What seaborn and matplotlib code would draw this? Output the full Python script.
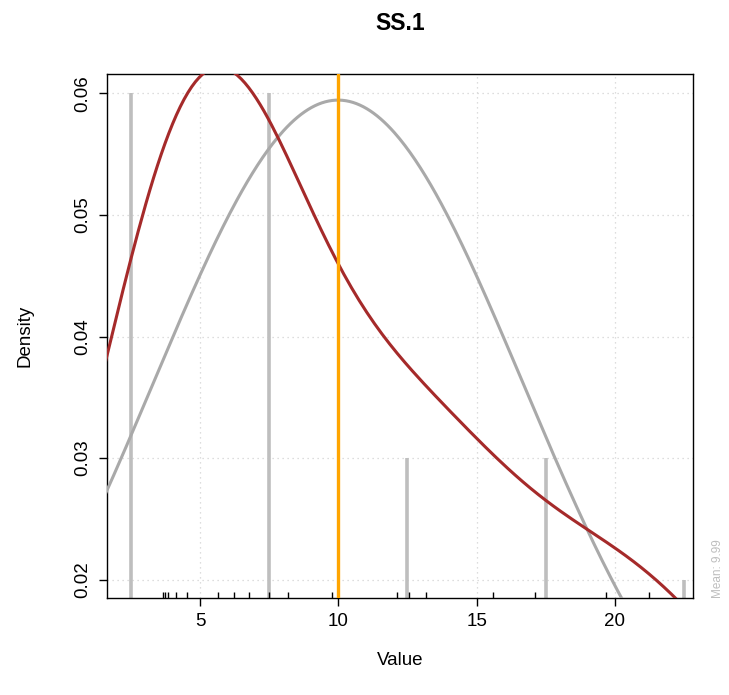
import matplotlib
matplotlib.use("Agg")
import matplotlib.pyplot as plt
import numpy as np
import pandas as pd
import seaborn as sns

values = [0.2, 3.64, 3.73, 3.83, 4.12, 4.54, 5.65, 6.22, 6.78, 7.5,
          8.19, 9.78, 12.12, 12.54, 13.18, 15.58, 17.10, 19.68, 21.23, 24.2]
bin_edges = [0, 5, 10, 15, 20, 25]
x_ticks = [5, 10, 15, 20]
y_ticks = [0.02, 0.03, 0.04, 0.05, 0.06]
title = "SS.1"

df = pd.DataFrame({"value": values})

sns.set_style("white")
plt.rcParams["font.family"] = ["Liberation Sans", "DejaVu Sans"]
plt.rcParams["text.color"] = "black"
plt.rcParams["axes.labelcolor"] = "black"

fig = plt.figure(figsize=(7.29, 6.95), dpi=100)
ax = fig.add_axes([0.1468, 0.1396, 0.8038, 0.7539])

# histogram drawn as spikes at bin mids
dens, edges = np.histogram(df["value"], bins=bin_edges, density=True)
mids = (edges[:-1] + edges[1:]) / 2
ax.vlines(mids, 0, dens, color="#BEBEBE", lw=2.6, zorder=2)

# normal curve from the sample mean / sd
mu = df["value"].mean()
sd = df["value"].std()
xs = np.linspace(0, 25, 400)
norm_df = pd.DataFrame({"x": xs,
                        "y": np.exp(-0.5 * ((xs - mu) / sd) ** 2) / (sd * np.sqrt(2 * np.pi))})
sns.lineplot(data=norm_df, x="x", y="y", ax=ax, color="#A9A9A9", lw=2.2, zorder=3)

# kernel density
sns.kdeplot(data=df, x="value", ax=ax, bw_adjust=0.84, cut=5, gridsize=400,
            color="#A52A2A", lw=2.2, zorder=4)

ax.axvline(mu, color="#FFA500", lw=2.4, zorder=5)
sns.rugplot(data=df, x="value", ax=ax, height=0.011, color="black", lw=1, zorder=6)

ax.set_xlim(1.63, 22.83)
ax.set_ylim(0.0185, 0.0616)
ax.set_xticks(x_ticks)
ax.set_yticks(y_ticks)
ax.set_yticklabels([f"{t:.2f}" for t in y_ticks], rotation=90, va="center")
ax.tick_params(axis="both", direction="out", length=6, width=1, labelsize=13.5,
               colors="black", pad=5, left=True, bottom=True)
ax.grid(True, color="#D3D3D3", ls=(0, (1, 3)), lw=0.9)
for s in ax.spines.values():
    s.set_color("black")
    s.set_linewidth(1)

ax.set_xlabel("Value", fontsize=13.5, labelpad=16, color="black")
ax.set_ylabel("Density", fontsize=13.5, labelpad=30, color="black")
ax.set_title(title, fontsize=16.5, fontweight="bold", pad=32, color="black")
fig.text(0.985, 0.139, f"Mean: {mu:.2f}", rotation=90, fontsize=8.5,
         color="#BEBEBE", ha="center", va="bottom")

fig.savefig("out.png", dpi=100)
